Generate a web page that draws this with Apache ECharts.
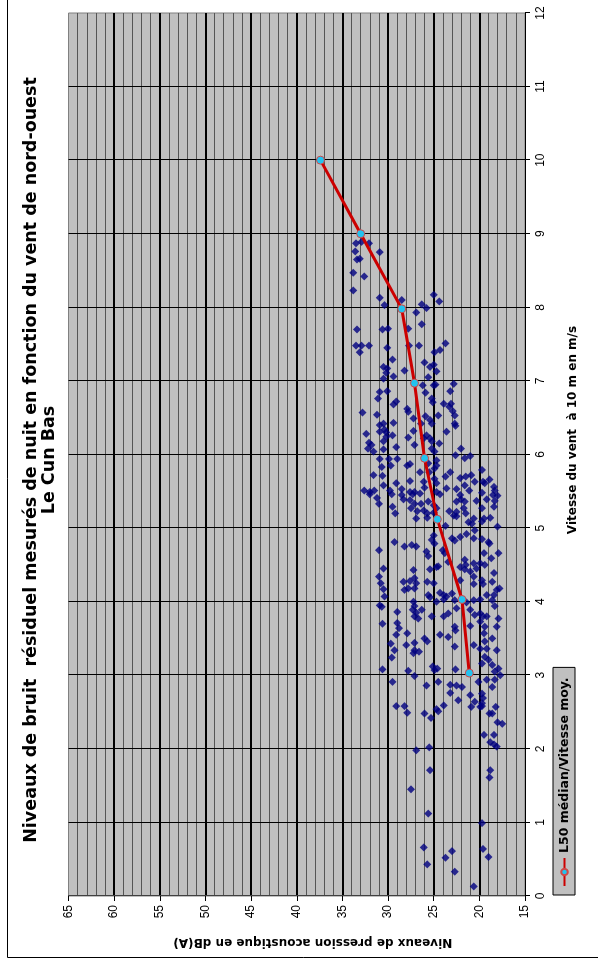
<!DOCTYPE html>
<html>
<head>
<meta charset="utf-8">
<script src="https://cdn.jsdelivr.net/npm/echarts@6/dist/echarts.min.js"></script>
<style>
  html, body { margin: 0; padding: 0; background: #fff; overflow: hidden; width: 598px; height: 969px; }
  /* the chart is laid out landscape and turned a quarter turn to fit the portrait page */
  #turn { position: absolute; left: 0; top: 0; width: 969px; height: 598px;
          transform-origin: 0 0; transform: translateY(969px) rotate(-90deg); }
  #chart { width: 969px; height: 598px; }
</style>
</head>
<body>
<div id="turn"><div id="chart"></div></div>
<script>
// Titles
const titleMain = 'Niveaux de bruit  résiduel mesurés de nuit en fonction du vent de nord-ouest';
const titleSite = 'Le Cun Bas';
const windAxisName = 'Vitesse du vent  à 10 m en m/s';
const levelAxisName = 'Niveaux de pression acoustique en dB(A)';
const l50Name = 'L50 médian/Vitesse moy.';

// Axis ranges (m/s and dB(A))
const windRange = [0, 12];
const levelRange = [15, 65];

// Individual 10-minute samples: wind speed at 10 m (m/s) and residual level (dB(A))
const sampleWind = [
  8.87, 8.89, 8.87, 8.76, 8.75, 8.65, 8.66, 8.47, 8.42, 8.23, 8.13, 8.03, 8.10, 8.17, 8.08, 8.04, 7.99, 7.93, 7.77, 7.71, 7.70, 7.70, 7.71,
  7.48, 7.48, 7.48, 7.39, 7.45, 7.48, 7.48, 7.51, 7.39, 7.42, 7.29, 7.25, 7.22, 7.19, 7.19, 7.17, 7.14, 7.11, 7.06, 7.03, 7.13, 7.05,
  6.94, 6.94, 6.95, 6.96, 6.85, 6.86, 6.84, 6.86, 6.76, 6.76, 6.72, 6.68, 6.71, 6.69, 6.69, 6.65, 6.62, 6.58, 6.57, 6.54, 6.49, 6.52,
  6.59, 6.53, 6.53, 6.47, 6.42, 6.40, 6.42, 6.43, 6.42, 6.42, 6.39, 6.34, 6.30, 6.28, 6.31, 6.32, 6.31, 6.26, 6.22, 6.22, 6.24, 6.26,
  6.23, 6.16, 6.13, 6.18, 6.10, 6.13, 6.18, 6.15, 6.08, 6.04, 6.07, 6.08, 6.04, 6.08, 5.99, 5.95, 5.98, 5.94, 5.94, 5.94, 5.87, 5.88,
  5.92, 5.85, 5.83, 5.85, 5.85, 5.81, 5.76, 5.76, 5.76, 5.79, 5.63, 5.66, 5.68, 5.70, 5.72, 5.70, 5.67, 5.72, 5.71, 5.61, 5.58, 5.64,
  5.63, 5.61, 5.58, 5.63, 5.61, 5.56, 5.51, 5.51, 5.49, 5.51, 5.51, 5.53, 5.49, 5.49, 5.55, 5.54, 5.53, 5.51, 5.48, 5.45, 5.44, 5.46,
  5.41, 5.46, 5.45, 5.46, 5.47, 5.49, 5.46, 5.45, 5.39, 5.36, 5.37, 5.39, 5.37, 5.33, 5.29, 5.39, 5.38, 5.33, 5.33, 5.36, 5.31, 5.36,
  5.27, 5.29, 5.20, 5.27, 5.23, 5.24, 5.20, 5.21, 5.27, 5.23, 5.17, 5.22, 5.27, 5.20, 5.13, 5.14, 5.16, 5.13, 5.13, 5.14, 5.08,
  5.03, 5.06, 5.09, 5.02, 4.97, 4.81, 4.75, 4.77, 4.75, 4.90, 4.84, 4.79, 4.86, 4.83, 4.88, 4.92, 4.86, 4.85, 4.81, 4.79,
  4.70, 4.68, 4.62, 4.70, 4.66, 4.54, 4.57, 4.50, 4.52, 4.52, 4.50, 4.59, 4.66, 4.66, 4.45, 4.43, 4.44, 4.47, 4.48, 4.47, 4.44, 4.41,
  4.45, 4.39, 4.34, 4.27, 4.28, 4.32, 4.25, 4.18, 4.18, 4.27, 4.25, 4.29, 4.34, 4.24, 4.29, 4.24, 4.27, 4.18, 4.16, 4.25, 4.17, 4.07,
  4.16, 4.09, 4.06, 4.12, 4.09, 4.07, 4.11, 4.02, 3.99, 4.02, 4.03, 4.09, 4.02, 4.09, 3.95, 3.93, 3.86, 4.00, 3.94, 3.89, 3.85, 3.89,
  3.80, 3.77, 3.80, 4.00, 4.03, 3.80, 3.84, 3.91, 3.89, 3.82, 3.84, 3.80, 3.80, 3.77, 3.94, 3.70, 3.71, 3.64, 3.57, 3.55, 3.55, 3.52,
  3.66, 3.61, 3.67, 3.73, 3.66, 3.66, 3.57, 3.50, 3.43, 3.34, 3.41, 3.44, 3.50, 3.46, 3.34, 3.30, 3.32, 3.39, 3.41, 3.36, 3.36, 3.34,
  3.46, 3.24, 3.08, 3.06, 2.99, 3.12, 3.07, 3.09, 3.08, 3.16, 3.25, 3.21, 3.14, 3.09, 3.00, 3.05, 2.91, 2.86, 2.91, 2.87, 2.86, 2.84,
  2.91, 2.94, 2.84, 2.94, 2.76, 2.66, 2.73, 2.75, 2.69, 2.64, 2.62,
  2.58, 2.58, 2.49, 2.48, 2.42, 2.54, 2.51, 2.59, 2.57, 2.57, 2.58, 2.48, 2.48, 2.57, 2.36, 2.34, 2.19, 2.19, 2.09, 2.06, 2.03,
  1.98, 2.02, 1.71, 1.71, 1.61, 1.45, 1.12, 0.99, 0.66, 0.43, 0.52, 0.61, 0.64, 0.53, 0.33, 0.13
];
const sampleLevel = [
  33.5, 32.9, 32.1, 33.6, 30.9, 33.4, 33.1, 33.8, 32.6, 33.8, 30.9, 30.4, 28.5, 25.0, 24.4, 26.3, 25.8, 26.9, 26.3, 27.8, 33.4, 30.6, 30.0,
  33.5, 32.9, 32.1, 33.1, 30.1, 27.7, 26.6, 23.7, 24.9, 24.3, 29.5, 26.0, 25.0, 25.4, 30.5, 30.1, 28.2, 30.2, 29.4, 30.5, 24.7, 25.6,
  26.2, 25.0, 24.8, 22.8, 30.9, 30.1, 25.9, 23.2, 31.1, 25.2, 29.1, 29.4, 25.1, 23.9, 23.1, 23.3, 27.9, 27.8, 32.8, 31.2, 27.2, 25.9,
  22.9, 22.7, 24.5, 25.4, 25.2, 30.9, 30.5, 29.4, 26.4, 22.7, 22.6, 30.4, 30.2, 32.4, 30.9, 27.2, 23.6, 25.8, 26.1, 25.4, 30.2, 29.5,
  27.8, 32.1, 31.8, 30.5, 29.1, 27.1, 25.2, 24.4, 32.2, 31.6, 30.5, 25.2, 24.9, 22.0, 22.6, 21.6, 21.0, 30.9, 29.9, 29.0, 27.6, 25.6,
  24.7, 24.7, 30.7, 29.7, 27.9, 24.9, 26.5, 25.5, 23.2, 19.7, 19.6, 18.9, 22.1, 21.5, 20.9, 23.7, 24.9, 31.6, 30.6, 29.1, 30.5, 27.6,
  26.1, 24.7, 21.6, 20.5, 19.4, 18.4, 18.3, 32.6, 32.0, 31.5, 29.8, 28.5, 27.6, 27.1, 26.0, 23.6, 22.5, 21.1, 19.7, 18.5, 18.0, 32.0,
  31.2, 29.6, 28.5, 27.3, 26.5, 24.7, 24.3, 22.1, 22.0, 21.6, 20.3, 19.2, 18.3, 31.0, 29.5, 28.3, 27.6, 27.1, 26.4, 25.6, 25.0, 22.5,
  19.7, 18.4, 29.2, 27.5, 26.8, 26.1, 25.7, 25.0, 24.7, 23.3, 22.8, 22.5, 21.7, 21.5, 26.9, 25.7, 22.5, 20.6, 19.5, 18.8, 21.2,
  23.7, 20.8, 19.7, 18.0, 20.5, 29.3, 28.2, 27.4, 26.9, 25.0, 25.2, 24.9, 23.0, 22.7, 22.1, 21.4, 20.6, 19.7, 19.0, 18.9,
  31.0, 25.8, 25.6, 24.0, 23.8, 23.4, 21.6, 21.5, 20.6, 19.9, 19.4, 18.7, 17.9, 19.5, 30.5, 27.2, 25.4, 24.7, 24.5, 22.1, 21.6, 21.0,
  20.3, 18.4, 31.0, 28.3, 27.6, 27.1, 26.9, 27.8, 27.1, 25.7, 25.0, 22.1, 20.6, 20.6, 19.7, 19.6, 18.6, 17.8, 18.1, 30.8, 30.5, 30.4,
  28.2, 25.6, 25.4, 24.3, 23.9, 23.6, 23.0, 22.7, 21.4, 20.6, 19.9, 19.2, 18.6, 18.4, 30.9, 30.7, 29.0, 27.2, 27.1, 27.3, 26.9, 26.3,
  27.1, 26.7, 25.2, 24.7, 23.9, 23.9, 23.4, 22.5, 21.0, 20.5, 19.9, 19.6, 19.2, 17.9, 18.3, 30.6, 29.0, 28.8, 27.9, 29.1, 24.3, 23.4,
  22.7, 22.6, 21.0, 19.9, 19.4, 18.1, 19.5, 18.6, 29.7, 29.3, 28.0, 27.1, 26.0, 25.7, 27.1, 27.2, 26.6, 22.7, 20.6, 19.9, 19.2, 18.1,
  19.4, 29.6, 30.6, 27.8, 27.1, 25.1, 24.9, 24.6, 22.6, 19.7, 19.4, 19.0, 18.6, 17.9, 17.7, 18.3, 29.5, 25.8, 24.5, 23.2, 22.5, 21.9,
  20.1, 19.2, 18.6, 18.3, 23.2, 22.3, 21.0, 19.7, 19.6, 20.5, 19.7,
  29.1, 28.2, 27.9, 26.0, 25.3, 24.7, 24.5, 23.9, 20.9, 19.9, 19.7, 18.9, 18.6, 18.2, 18.0, 17.5, 19.5, 18.4, 18.8, 18.4, 18.1,
  26.9, 25.5, 25.4, 18.8, 18.9, 27.5, 25.6, 19.7, 26.1, 25.7, 23.7, 23.0, 19.6, 19.0, 22.7, 20.6
];

// Median level (L50) per mean wind-speed class
const l50Wind = [3.03, 4.03, 5.12, 5.95, 6.97, 7.98, 9.0, 10.0];
const l50Level = [21.1, 21.9, 24.6, 26.0, 27.1, 28.5, 33.0, 37.4];

const headFont = '"DejaVu Sans", sans-serif';
const tickFont = '"Liberation Sans", Arial, sans-serif';

const samples = sampleWind.map((w, i) => [w, sampleLevel[i]]);
const l50 = l50Wind.map((w, i) => [w, l50Level[i]]);

const chart = echarts.init(document.getElementById('chart'), null, { renderer: 'canvas' });
chart.setOption({
  animation: false,
  backgroundColor: '#ffffff',
  textStyle: { fontFamily: tickFont },
  grid: {
    left: 73, right: 13, top: 68.5, bottom: 73,
    show: true, backgroundColor: '#c0c0c0', borderColor: '#808080', borderWidth: 1
  },
  graphic: [
    { type: 'rect', silent: true, shape: { x: 11.5, y: 7.5, width: 1000, height: 700 },
      style: { fill: 'none', stroke: '#000', lineWidth: 1 } },
    { type: 'text', silent: true, x: 509, y: 31,
      style: { text: titleMain, font: 'bold 17.5px ' + headFont, fill: '#000', align: 'center', verticalAlign: 'middle' } },
    { type: 'text', silent: true, x: 509, y: 49,
      style: { text: titleSite, font: 'bold 17.5px ' + headFont, fill: '#000', align: 'center', verticalAlign: 'middle' } }
  ],
  legend: {
    data: [l50Name], left: 74, top: 553, selectedMode: false,
    backgroundColor: '#c0c0c0', borderColor: '#000', borderWidth: 1, borderRadius: 0,
    padding: [5, 10, 4, 8], itemWidth: 28, itemHeight: 8, itemGap: 0,
    textStyle: { fontFamily: headFont, fontWeight: 'bold', fontSize: 12.5, color: '#000' }
  },
  xAxis: {
    type: 'value', min: windRange[0], max: windRange[1], interval: 1, position: 'bottom',
    axisLine: { show: true, onZero: false, lineStyle: { color: '#000', width: 1 } },
    axisTick: { show: true, length: 5, lineStyle: { color: '#000' } },
    axisLabel: { color: '#000', fontSize: 12, fontFamily: tickFont, margin: 10 },
    splitLine: { show: true, showMinLine: false, showMaxLine: false, lineStyle: { color: '#000', width: 1 } },
    name: windAxisName, nameLocation: 'middle', nameGap: 42,
    nameTextStyle: { color: '#000', fontFamily: headFont, fontWeight: 'bold', fontSize: 12, padding: [0, 0, 0, 49] }
  },
  yAxis: {
    type: 'value', min: levelRange[0], max: levelRange[1], interval: 5,
    axisLine: { show: true, lineStyle: { color: '#404040', width: 1 } },
    axisTick: { show: true, length: 5, lineStyle: { color: '#000' } },
    axisLabel: { color: '#000', fontSize: 12, fontFamily: tickFont, margin: 9 },
    splitLine: { show: true, showMinLine: false, showMaxLine: false, lineStyle: { color: '#000', width: 2 } },
    minorTick: { show: false, splitNumber: 5 },
    minorSplitLine: { show: true, lineStyle: { color: '#555555', width: 1 } },
    name: levelAxisName, nameLocation: 'middle', nameGap: 40,
    nameTextStyle: { color: '#000', fontFamily: headFont, fontWeight: 'bold', fontSize: 12, padding: [0, 32, 0, 0] }
  },
  series: [
    {
      type: 'scatter', name: 'mesures', data: samples, symbol: 'diamond', symbolSize: 8,
      itemStyle: { color: '#000080' }, z: 3
    },
    {
      type: 'line', name: l50Name, data: l50, symbol: 'circle', symbolSize: 8, showSymbol: true,
      lineStyle: { color: '#cc0000', width: 3 },
      itemStyle: { color: '#22c3f0', borderColor: '#d04848', borderWidth: 1 }, z: 4
    }
  ]
});
</script>
</body>
</html>
